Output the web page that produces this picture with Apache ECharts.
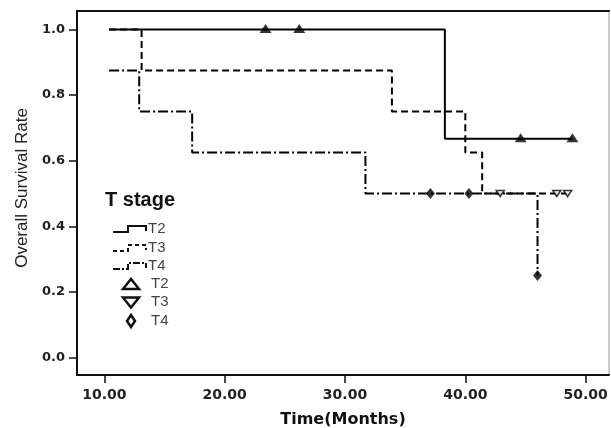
<!DOCTYPE html>
<html>
<head>
<meta charset="utf-8">
<script src="https://cdn.jsdelivr.net/npm/echarts@6/dist/echarts.min.js"></script>
<style>
html, body { margin: 0; padding: 0; background: #fff; }
#survChart { width: 611px; height: 428px; }
</style>
</head>
<body>
<div id="survChart"></div>
<script>
// Kaplan-Meier steps per T stage (time in months, survival after the step)
var t2Times = [10.4, 38.3, 48.9];
var t2Surv = [1.0, 0.667, 0.667];
var t3Times = [10.4, 13.1, 33.9, 40.0, 41.4, 48.5];
var t3Surv = [1.0, 0.875, 0.75, 0.625, 0.5, 0.5];
var t4Times = [10.4, 12.9, 17.3, 31.7, 46.0];
var t4Surv = [0.875, 0.75, 0.625, 0.5, 0.25];

// censored cases
var t2CensTimes = [23.4, 26.2, 44.6, 48.9];
var t2CensSurv = [1.0, 1.0, 0.667, 0.667];
var t3CensTimes = [42.9, 47.6, 48.5];
var t3CensSurv = [0.5, 0.5, 0.5];
var t4CensTimes = [37.1, 40.3, 46.0];
var t4CensSurv = [0.5, 0.5, 0.25];

var xTicks = [10, 20, 30, 40, 50];
var yTicks = [0, 0.2, 0.4, 0.6, 0.8, 1.0];
var stageNames = ['T2', 'T3', 'T4'];

function pairs(xs, ys) {
	var out = [];
	for (var i = 0; i < xs.length; i++) out.push([xs[i], ys[i]]);
	return out;
}

// legend drawn by hand, SPSS style
function legendItems() {
	var items = [];
	items.push({
		type : 'text', left : 105, top : 190,
		style : { text : 'T stage', font : 'bold 20px "Liberation Sans"', fill : '#111' }
	});
	var dashes = [null, [4, 3], [7, 2, 2, 2]];
	var rowY = [229, 248, 266, 284, 302.5, 321];
	for (var i = 0; i < 3; i++) {
		var yc = rowY[i];
		items.push({
			type : 'polyline',
			shape : { points : [[113, yc + 3], [128, yc + 3], [128, yc - 3], [146, yc - 3], [146, yc + 2]] },
			style : { stroke : '#111', lineWidth : 2, fill : null, lineDash : dashes[i] }
		});
	}
	var yt = rowY[3], yd = rowY[4], yq = rowY[5];
	items.push({
		type : 'polygon',
		shape : { points : [[123, yt + 5], [131, yt - 5], [139, yt + 5]] },
		style : { stroke : '#111', lineWidth : 2.5, fill : '#fff' }
	});
	items.push({
		type : 'polygon',
		shape : { points : [[123, yd - 5], [131, yd + 5], [139, yd - 5]] },
		style : { stroke : '#111', lineWidth : 2.5, fill : '#fff' }
	});
	items.push({
		type : 'polygon',
		shape : { points : [[131, yq - 6], [135, yq], [131, yq + 6], [127, yq]] },
		style : { stroke : '#111', lineWidth : 2.5, fill : '#fff' }
	});
	for (var j = 0; j < 6; j++) {
		items.push({
			type : 'text', left : j < 3 ? 148 : 151, top : rowY[j] - 8,
			style : { text : stageNames[j % 3], font : '15px "Liberation Sans"', fill : '#444' }
		});
	}
	return items;
}

var myChart = echarts.init(document.getElementById('survChart'));
var option = {
	animation : false,
	backgroundColor : '#fff',
	grid : {
		left : 77, right : 2, top : 11, bottom : 53,
		outerBoundsMode : 'none',
		containLabel : false,
		show : true, borderColor : '#999', borderWidth : 1
	},
	xAxis : [ {
		type : 'value',
		min : 7.73,
		max : 51.94,
		name : 'Time(Months)',
		nameLocation : 'middle',
		nameGap : 37,
		nameTextStyle : { fontFamily : 'DejaVu Sans', fontWeight : 'bold', fontSize : 16, color : '#111' },
		axisLine : { show : true, onZero : false, lineStyle : { color : '#111', width : 2 } },
		axisTick : { show : true, length : 8, customValues : xTicks, lineStyle : { color : '#111', width : 1.5 } },
		axisLabel : {
			customValues : xTicks, margin : 13,
			fontFamily : 'DejaVu Sans', fontWeight : 'bold', fontSize : 14, color : '#222',
			formatter : function(v) { return v.toFixed(2); }
		},
		splitLine : { show : false }
	}, {
		type : 'value', position : 'top', min : 7.73, max : 51.94,
		axisLine : { show : true, onZero : false, lineStyle : { color : '#111', width : 2 } },
		axisTick : { show : false }, axisLabel : { show : false }, splitLine : { show : false }
	} ],
	yAxis : {
		type : 'value',
		min : -0.053,
		max : 1.056,
		name : 'Overall Survival Rate',
		nameLocation : 'middle',
		nameGap : 41,
		nameTextStyle : { fontFamily : 'Liberation Sans', fontSize : 17, color : '#222', padding : [0, 0, 0, 10] },
		axisLine : { show : true, onZero : false, lineStyle : { color : '#111', width : 2 } },
		axisTick : { show : true, length : 8, customValues : yTicks, lineStyle : { color : '#111', width : 1.5 } },
		axisLabel : {
			customValues : yTicks, margin : 12,
			fontFamily : 'DejaVu Sans', fontWeight : 'bold', fontSize : 13, color : '#222',
			formatter : function(v) { return v.toFixed(1); }
		},
		splitLine : { show : false }
	},
	graphic : legendItems(),
	series : [ {
		name : 'T2', type : 'line', step : 'end', showSymbol : false,
		data : pairs(t2Times, t2Surv),
		lineStyle : { color : '#000', width : 2 }, z : 3
	}, {
		name : 'T3', type : 'line', step : 'end', showSymbol : false,
		data : pairs(t3Times, t3Surv),
		lineStyle : { color : '#000', width : 2, type : [7, 4] }, z : 2
	}, {
		name : 'T4', type : 'line', step : 'end', showSymbol : false,
		data : pairs(t4Times, t4Surv),
		lineStyle : { color : '#000', width : 2, type : [10, 3, 2, 3] }, z : 2
	}, {
		name : 'T2 censored', type : 'scatter', symbol : 'triangle', symbolSize : [12, 9],
		symbolOffset : [0, -1],
		data : pairs(t2CensTimes, t2CensSurv),
		itemStyle : { color : '#000' }, z : 4
	}, {
		name : 'T3 censored', type : 'scatter', symbol : 'triangle', symbolRotate : 180,
		symbolSize : [8, 6],
		data : pairs(t3CensTimes, t3CensSurv),
		itemStyle : { color : '#fff', borderColor : '#000', borderWidth : 1.5 }, z : 4
	}, {
		name : 'T4 censored', type : 'scatter', symbol : 'diamond', symbolSize : [9, 11],
		data : pairs(t4CensTimes, t4CensSurv),
		itemStyle : { color : '#000' }, z : 4
	} ]
};
myChart.setOption(option);
</script>
</body>
</html>
